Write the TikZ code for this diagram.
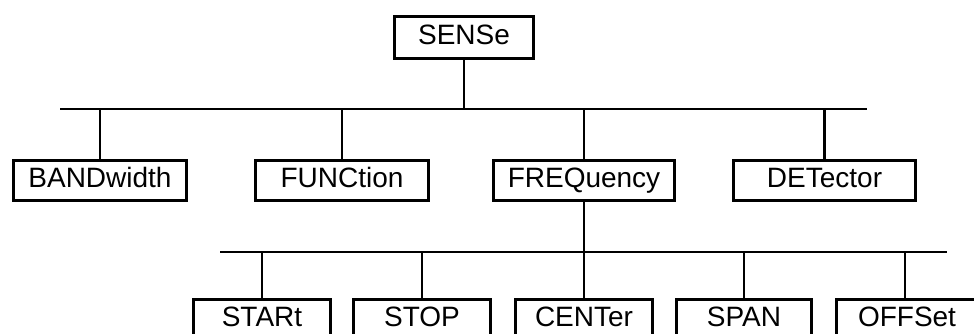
\documentclass[tikz,border=0pt]{standalone}
\usepackage{fontspec}
\setmainfont{Liberation Sans}
\begin{document}
\begin{tikzpicture}[x=1pt,y=-1pt,
  box/.style={draw,line width=2.8pt,inner sep=0pt,minimum height=40.2pt,
    text height=20pt,text depth=6pt,font=\fontsize{28}{30}\selectfont},
  wire/.style={line width=2.8pt}]
\useasboundingbox (0,0) rectangle (974,333);
\clip (0,0) rectangle (974,333);
\node[box,minimum width=139.2pt,minimum height=42.2pt] (sense) at (464,37.5) {SENSe};
\node[box,minimum width=173.2pt] (band) at (100,180.5) {BANDwidth};
\node[box,minimum width=173.2pt] (func) at (342,180.5) {FUNCtion};
\node[box,minimum width=181.2pt] (freq) at (584,180.5) {FREQuency};
\node[box,minimum width=182.2pt] (det) at (824.5,180.5) {DETector};
\node[box,minimum width=137.2pt] (start) at (262,319.5) {STARt};
\node[box,minimum width=137.2pt] (stop) at (422,319.5) {STOP};
\node[box,minimum width=137.2pt] (center) at (584,319.5) {CENTer};
\node[box,minimum width=135.2pt] (span) at (744,319.5) {SPAN};
\node[box,minimum width=141.2pt] (offs) at (907,319.5) {OFFSet};
\coordinate (b1l) at (60,109);
\coordinate (b1r) at (867,109);
\coordinate (b2l) at (220,252);
\coordinate (b2r) at (947,252);
\draw[wire] (b1l) -- (b1r);
\draw[wire] (b2l) -- (b2r);
\draw[wire] (sense.south) -- (sense.south |- b1l);
\foreach \n in {band,func,freq,det}
  \draw[wire] (\n.north) -- (\n.north |- b1l);
\draw[wire] (freq.south) -- (freq.south |- b2l);
\foreach \n in {start,stop,center,span}
  \draw[wire] (\n.north) -- (\n.north |- b2l);
\draw[wire] ([xshift=-2pt]offs.north) -- ([xshift=-2pt]offs.north |- b2l);
\end{tikzpicture}
\end{document}
